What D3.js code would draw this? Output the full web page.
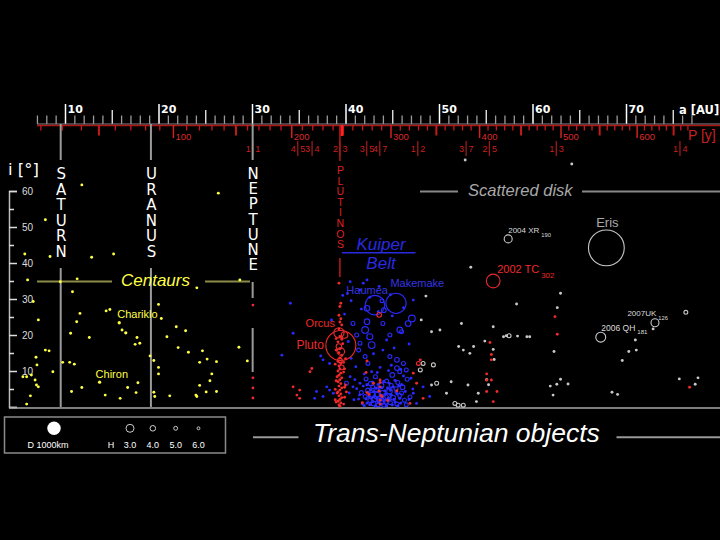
<!DOCTYPE html>
<html lang="en" style="width:100%;height:100%;margin:0;padding:0;">
<head>
<meta charset="UTF-8">
<title>Trans-Neptunian objects</title>
<script src="https://d3js.org/d3.v7.min.js"></script>
<style>
  body { margin: 0; background: #000; }
</style>
</head>
<body>
<svg id="chart" width="720" height="540"></svg>
<script>
// [a (AU), i (deg), H (abs. magnitude)]
const centaurs = [
  [11.8,61.7,6],[26.4,59.4,6],[7.9,52,6],[5.7,42.5,6],[8.4,41.8,6],[12.85,41.6,6],[15.2,42.5,6],
  [6.0,35.3,6],[9.5,34.8,6],[11.3,35.6,6],[10.8,32,6],[24.1,33.1,6],[28.7,35.3,6],[6.6,29.3,6],
  [11.6,26,6],[14.4,26.7,6],[14.8,27.1,6],[11.25,23.7,6],[7.15,24.2,6],[15.8,23.4,5.5],[16.5,20.6,5.5],
  [16.1,21.4,6],[20,28.5,6],[20.3,24.6,6],[21.9,22.3,6],[22.9,21.2,6],[10.6,20.5,6],[12.6,19.3,6],
  [17.7,19.3,6],[17.5,17.4,6],[18.0,17.7,6],[20.9,19.5,6],[22.1,16.5,6],[23.2,15.2,6],[24.7,15.6,6],
  [28.6,16.6,6],[29.5,12.8,6],[7.9,15.8,6],[8.3,15.6,6],[6.9,13.8,6],[7.0,11.7,6],[9.75,12.4,6],
  [10.5,12.4,6],[11.0,11.9,6],[8.7,9.8,6],[19.1,14.2,6],[19.5,12.9,6],[20.0,11,6],[20.0,9.2,6],
  [24.4,12.4,6],[25.2,13.3,6],[26.2,12.6,6],[25.7,9.2,6],[25.5,7.3,6],[24.4,6,6],[24.0,3.3,6],
  [24.1,2.9,6],[25.1,4.2,6],[26.2,4.3,6],[5.5,8.4,6],[5.9,8.4,6],[6.4,8.9,6],[6.8,7.5,6],[6.95,6.1,6],
  [7.15,5.6,6],[6.3,3.1,6],[5.9,0.8,6],[13.7,6.9,5.5],[10.7,4.3,6],[11.8,5.4,6],[14.3,3.3,6],
  [15.9,2.4,6],[16.7,5.4,6],[17.8,6.75,6],[17.6,4,6],[19.5,4.1,6],[19.6,2.9,6],[21.2,3.1,6]
];

const resonant = [
  [30.1,28.3,6],[30.1,8.1,6],[30.1,5.3,6],[30.1,2.5,6],
  [39.3,34.4,6],[39.5,28.8,6],[39.4,27.9,6],[39.3,25.5,6],[39.5,24.5,6],[39.4,23.6,6],[39.6,22.8,6],
  [39.3,21.7,6],[39.3,20.6,2.3],[39.9,20.0,3.6],[39.4,19.6,6],[39.6,18.8,6],[39.2,18.1,6],[39.5,17.1,-0.7],
  [39.3,16.8,4],[39.4,16.2,6],[39.5,15.4,3.2],[39.3,15.1,6],[39.6,14.3,6],[39.4,13.6,6],[39.4,13.0,4.5],
  [39.2,12.7,6],[39.5,12.1,6],[39.3,11.4,6],[39.6,11.0,4.5],[39.4,10.6,6],[39.2,10.0,6],[39.5,9.4,6],
  [39.3,8.8,6],[39.6,8.1,6],[39.4,7.6,6],[39.2,7.0,6],[39.5,6.5,6],[39.3,5.8,6],[39.6,5.3,6],[39.4,4.7,6],
  [39.2,4.2,6],[39.5,3.6,6],[39.3,3.1,6],[39.6,2.6,6],[39.4,2.1,6],[39.2,1.6,6],[39.5,1.1,6],[39.3,0.6,6],
  [39.4,0.2,6],
  [39.0,1.4,6],[39.9,2.7,6],[38.9,4.9,6],[40.0,6.1,6],[39.1,8.4,6],[39.8,9.7,6],[38.9,11.9,6],
  [40.0,13.4,6],[39.0,15.8,6],[39.8,0.8,6],[39.1,3.9,6],[39.9,5.5,6],[39.0,7.3,6],[39.8,12.4,6],
  [39.7,17.6,6],[39.0,19.0,6],[39.9,10.6,6],[38.9,2.0,6],[40.1,4.2,6],
  [43.7,0.8,6],[43.7,1.9,6],[43.8,3.2,6],[43.6,4.4,6],[43.7,5.6,6],[43.7,6.8,6],
  [42.3,4.0,6],[42.2,9.6,6],[42.3,12.8,6],
  [36.4,10.7,6],[36.2,9.8,6],[34.8,3.3,6],[35.1,2.4,6],[34.4,5.6,6],[35.1,4.7,6],[43.6,25.6,4.5],
  [47.8,12.1,5],[48,13.1,6],[47.25,9.4,6],[43.9,2.9,6],[43.0,6.6,6],[43.7,7.5,6],[47.6,6.6,6],
  [48.3,2.4,6],[46.9,1,6],[42.5,3.5,6],[44.5,1.8,6],[45.5,4.5,6],[41.8,1.2,6],
  [55.45,17.9,6],[55.6,14.6,6],[55.6,13.1,6],[55.1,9.2,6],[55.6,7.5,6],[55.1,7.5,6],[55.1,4.3,6],
  [56.2,4.3,6],[55.8,1.5,6],[62.4,25.1,6],[62.65,20.2,6],[76.8,5.5,6],[55.8,35,1.5]
];

const classical = [
  [34.1,28.8,6],[33.2,14.4,6],[37.35,14.2,6],[34.4,20.5,6],[41.9,34.4,6],[42.3,35.3,6],[41.55,32.5,6],
  [40.5,34.8,6],[40.2,31.5,6],[40.6,29.5,6],[43.15,28.3,0.5],[45.4,28.8,0.4],[42.3,27.4,4],[43.9,29.5,5],
  [42.6,30.5,6],[44.1,26.9,4.5],[43.5,26.5,6],[47.25,29.7,6],[47.1,24.6,3.5],[46.7,23.2,4],[45.8,21.4,4],
  [46,20.9,5],[42.3,23.7,4],[42.1,21.4,3.5],[42.6,19.5,3.8],[42.8,17.2,3.5],[44.0,23.2,5],[44.75,20,5],
  [40.8,23.2,5],[41.2,20,5],[41.55,17.7,5],[37.6,13.1,6],[38.3,12.1,6],[41.4,15.8,5],[42.1,14,5],
  [42.4,12.1,5],[44,15.8,6],[44.75,14,5],[45.5,13.1,4.5],[46.2,12.1,5],[46.5,10.3,5],[45.5,10.8,4.5],
  [45.8,9.8,5],[40.5,8.4,6],[40.1,6.6,5],[40.8,5.6,6],[41.55,6.6,6],[38,5.6,6],[38.3,4.7,6],[38.7,3.8,6],
  [37.6,2.9,6],[36.9,4.3,6],[36.7,2.4,6],[48.3,5.6,6],[49.0,2.9,6],[47.25,3.8,6],[47.6,1.0,6],[38.5,24.2,6],
  [42.2,7.8,5],[42.7,6.5,4.5],[43.2,8.4,5],[43.8,6.0,4],[44.4,7.2,5],[45.0,8.9,4.5],[45.6,6.8,5],
  [46.1,5.5,4.5],[46.6,7.7,5],[42.4,4.6,4.5],[42.9,3.4,4],[43.3,4.9,4.5],[43.6,2.2,4],[44.0,3.8,4],
  [44.3,1.4,4.5],[44.7,4.4,4],[45.1,2.6,4.5],[45.4,5.1,5],[45.8,3.2,5],[46.3,1.9,5],[42.6,1.8,5],
  [42.1,2.9,5],[43.0,1.0,4.5],[43.5,0.6,5],[44.1,0.5,5],[44.8,1.2,5],[45.5,0.8,5],[46.0,3.9,5],
  [41.7,4.0,5],[41.4,2.2,6],[41.9,5.8,6],[42.8,9.8,6],[44.6,10.1,6],[43.7,11.0,6],[43.4,3.1,3.5],
  [44.2,2.7,3.5],[43.9,1.6,3.8],[43.1,2.3,3.8],[44.5,3.0,4],[42.9,5.6,5],[44.9,6.0,5],[45.9,10.5,6],
  [47.0,8.0,6],[46.9,2.8,5],[46.5,0.6,5],
  [42.0,0.4,5.6],[42.3,1.1,5.6],[42.6,0.7,5.6],[42.9,1.5,5.6],[43.2,0.3,5.6],[43.5,1.2,5.6],[43.8,0.8,5.6],
  [44.1,1.7,5.6],[44.4,0.4,5.6],[44.7,1.9,5.6],[45.0,0.6,5.6],[45.3,1.4,5.6],[45.6,0.3,5.6],[45.9,1.1,5.6],
  [42.2,2.3,5.6],[42.5,2.9,5.6],[42.8,2.4,5.6],[43.1,3.0,5.6],[43.4,2.6,5.6],[43.7,3.4,5.6],[44.0,2.9,5.6],
  [44.3,3.6,5.6],[44.6,2.5,5.6],[44.9,3.3,5.6],[45.2,2.1,5.6],[45.5,3.7,5.6],[45.8,2.4,5.6],[42.4,4.1,5.6],
  [42.7,4.8,5.6],[43.0,4.3,5.6],[43.3,5.2,5.6],[43.6,4.6,5.6],[43.9,5.4,5.6],[44.2,4.5,5.6],[44.5,5.3,5.6],
  [44.8,4.7,5.6],[45.1,5.6,5.6],[45.4,4.2,5.6],[45.7,5.9,5.6],[42.3,6.2,5.6],[42.9,6.9,5.6],[43.5,6.3,5.6],
  [44.1,7.1,5.6],[44.7,6.6,5.6],[45.3,7.4,5.6],[46.0,6.2,5.6],[41.5,3.3,6],[41.8,0.9,6],[41.2,5.1,6],
  [46.4,4.3,6],[46.8,2.1,6],[47.2,5.0,6],[40.9,2.0,6],[40.4,3.9,6],[41.0,7.6,6],[46.2,8.6,6],[42.0,9.2,6],
  [43.4,9.6,6],[44.9,11.6,6],[41.1,11.2,6],[40.6,13.5,6],[43.0,14.8,6],[45.2,16.4,6],[40.3,18.2,6],
  [46.8,17.5,6],[44.4,18.6,6],[39.9,25.8,6],[41.7,27.2,6],[45.0,25.3,6],[46.2,27.6,6],[44.8,31.2,6],
  [43.6,33.5,6],[39.7,31.0,6]
];

const scattered = [
  [52.8,68.6,6],[64.2,67.5,6],[53.4,38.8,6],[52.4,23.2,6],[48.6,30.8,6],[48.1,24.2,6],[49.2,20.9,6],
  [50.1,21.4,6],[52.1,16.8,6],[52.6,15.8,6],[53.3,14.9,6],[53.7,16.8,6],[48.3,12.1,5],[49.4,11.7,5],
  [48,10.3,5],[49.75,6.6,5],[49.2,6.1,6],[51.3,7,6],[50.8,3.8,6],[51.7,1,5],[52.05,0.5,5],[52.6,0.5,5],
  [53.1,6.1,6],[54.2,3.8,6],[54,1.5,6],[58.3,28.6,6],[63,31.6,6],[62.65,27.6,6],[55.8,22.3,6],
  [56.9,19.5,6],[57.2,19.8,6],[57.5,19.8,5],[58.4,19.7,6],[59.4,19.5,6],[59.7,19.5,6],[54.9,18.3,6],
  [55.8,16,6],[55.9,13.2,6],[62.3,15.4,6],[71,18.6,6],[71.1,15.8,6],[70.3,15.4,6],[69.6,12.9,6],
  [72.9,21.7,6],[76.4,26.3,5],[63,7.7,6],[61.9,5.8,6],[62.6,6.3,6],[63.8,6.4,6],[62.2,3.3,6],
  [68.5,4.1,6],[69.1,3.5,6],[75.7,7.8,6],[77.7,8.1,6],[77.4,6.3,6],[55.1,7.6,5.5],[55.3,6.2,6],
  [67.9,44.2,-1.2],[57.4,46.7,3],[67.3,19.4,2.4],[73.1,23.4,3]
];

const planetNames = ["SATURN", "URANUS", "NEPTUNE"];
const planetA = [9.54, 19.19, 30.07];
const resonances = ["1:1","4:5","3:4","2:3","3:5","4:7","1:2","3:7","2:5","1:3","1:4"];
const inclTicks = [0,5,10,15,20,25,30,35,40,45,50,55,60];
const legendH = ["3.0","4.0","5.0","6.0"];

const SANS = "'Liberation Sans', Arial, sans-serif";
const DEJA = "'DejaVu Sans', sans-serif";
const YEL = "#ffff44", RED = "#ee2a2a", BLUE = "#2a2aff", GREY = "#c8c8c8";

const svg = d3.select("#chart");
svg.append("rect").attr("width", 720).attr("height", 540).attr("fill", "#000");

const x = d3.scaleLinear().domain([10, 70]).range([65, 626]);
const y = d3.scaleLinear().domain([0, 60]).range([407, 191]);
const pScale = d3.scalePow().exponent(2 / 3)
  .domain([Math.pow(10, 1.5), Math.pow(70, 1.5)]).range([65, 626]);
const rad = H => Math.max(1.45, 4 * Math.pow(10, -0.155 * (H - 3)));

// ---- semi-major axis (top) ----
const aTicks = d3.range(7, 78);
function aAxis(vals, size, color) {
  const g = svg.append("g").attr("transform", "translate(0,124)")
    .call(d3.axisTop(x).tickValues(vals).tickSize(size).tickFormat(""));
  g.select(".domain").remove();
  g.selectAll("line").attr("stroke", color).attr("stroke-width", 1.3);
  return g;
}
aAxis(aTicks.filter(d => d % 5), 8.5, "#9a9a9a");
aAxis(aTicks.filter(d => d % 5 === 0 && d % 10), 14, "#f0f0f0");
const aMajor = svg.append("g").attr("transform", "translate(0,124)")
  .call(d3.axisTop(x).tickValues(aTicks.filter(d => d % 10 === 0)).tickSize(20));
aMajor.select(".domain").remove();
aMajor.selectAll("line").attr("stroke", "#fff").attr("stroke-width", 1.5);
aMajor.selectAll("text").attr("x", 2).attr("y", -11).attr("dy", 0)
  .attr("text-anchor", "start").attr("fill", "#fff")
  .attr("font-family", DEJA).attr("font-size", 11).attr("font-weight", "bold");

svg.append("line").attr("x1", x(7)).attr("x2", 720).attr("y1", 124).attr("y2", 124)
  .attr("stroke", "#888").attr("stroke-width", 1.2);
svg.append("line").attr("x1", x(7)).attr("x2", 720).attr("y1", 125.5).attr("y2", 125.5)
  .attr("stroke", "#b01515").attr("stroke-width", 1.5);

svg.append("text").attr("x", 679).attr("y", 114).text("a [AU]")
  .attr("fill", "#fff").attr("font-family", DEJA).attr("font-size", 11.5).attr("font-weight", "bold");

// ---- period (red, below) ----
const pTicks = d3.range(20, 680, 10);
function pAxis(vals, size, width) {
  const g = svg.append("g").attr("transform", "translate(0,125)")
    .call(d3.axisBottom(pScale).tickValues(vals).tickSize(size).tickFormat(""));
  g.select(".domain").remove();
  g.selectAll("line").attr("stroke", "#c41a1a").attr("stroke-width", width);
  return g;
}
pAxis(pTicks.filter(d => d % 50), 5.5, 1.3);
pAxis(pTicks.filter(d => d % 100 === 50), 10.5, 2);
const pMajor = svg.append("g").attr("transform", "translate(0,125)")
  .call(d3.axisBottom(pScale).tickValues(pTicks.filter(d => d % 100 === 0)).tickSize(13));
pMajor.select(".domain").remove();
pMajor.selectAll("line").attr("stroke", "#d42020").attr("stroke-width", 1.5);
pMajor.selectAll("text").attr("x", 2).attr("y", 14.5).attr("dy", 0)
  .attr("text-anchor", "start").attr("fill", "#dd2a2a")
  .attr("font-family", SANS).attr("font-size", 9.5);

svg.append("text").attr("x", 688).attr("y", 140).text("P [y]")
  .attr("fill", "#cc2020").attr("font-family", SANS).attr("font-size", 14);

// resonances with Neptune
const res = svg.append("g");
resonances.forEach(s => {
  const [p, q] = s.split(":").map(Number);
  const xr = x(planetA[2] * Math.pow(q / p, 2 / 3));
  res.append("line").attr("x1", xr).attr("x2", xr).attr("y1", 141).attr("y2", 156)
    .attr("stroke", "#9a1a1a").attr("stroke-width", 1.3);
  res.append("text").attr("x", xr - 2).attr("y", 152).attr("text-anchor", "end").text(p)
    .attr("fill", "#c82020").attr("font-family", SANS).attr("font-size", 9);
  res.append("text").attr("x", xr + 2.5).attr("y", 152).text(q)
    .attr("fill", "#c82020").attr("font-family", SANS).attr("font-size", 9);
});

// ---- inclination axis ----
const iAxis = svg.append("g").attr("transform", "translate(9,0)")
  .call(d3.axisRight(y).tickValues(inclTicks).tickSizeOuter(0).tickPadding(5)
    .tickSize(8).tickFormat(d => d % 10 === 0 && d > 0 ? d : ""));
iAxis.select(".domain").attr("stroke", "#bbb").attr("stroke-width", 1.5);
iAxis.selectAll(".tick line").attr("stroke", "#ddd").attr("stroke-width", 1.5)
  .attr("x2", d => d % 10 === 0 ? 8 : 5);
iAxis.selectAll("text").attr("fill", "#ddd").attr("font-family", SANS).attr("font-size", 10);

svg.append("text").attr("x", 8).attr("y", 175).text("i [°]")
  .attr("fill", "#fff").attr("font-family", DEJA).attr("font-size", 16.5);

svg.append("line").attr("x1", 9).attr("x2", 720).attr("y1", 408).attr("y2", 408)
  .attr("stroke", "#aaa").attr("stroke-width", 1.6);

// ---- planets ----
planetNames.forEach((name, k) => {
  const xp = x(planetA[k]);
  const segs = k < 2 ? [[124, 160], [268, 407]] : [[124, 160], [282, 298], [328, 372]];
  segs.forEach(s => svg.append("line").attr("x1", xp).attr("x2", xp).attr("y1", s[0]).attr("y2", s[1])
    .attr("stroke", "#9a9a9a").attr("stroke-width", 2));
  name.split("").forEach((ch, j) => {
    svg.append("text").attr("x", xp + 0.5).attr("y", 179 + j * (k < 2 ? 15.5 : 15.2))
      .attr("text-anchor", "middle").text(ch)
      .attr("fill", "#fff").attr("font-family", DEJA).attr("font-size", 15);
  });
});

// plutinos marker
const xPl = x(39.4);
svg.append("line").attr("x1", xPl).attr("x2", xPl).attr("y1", 125).attr("y2", 161)
  .attr("stroke", "#b01818").attr("stroke-width", 1.5);
svg.append("line").attr("x1", xPl + 2).attr("x2", xPl + 2).attr("y1", 125).attr("y2", 136)
  .attr("stroke", "#ff2020").attr("stroke-width", 2.5);
svg.append("line").attr("x1", xPl).attr("x2", xPl).attr("y1", 258).attr("y2", 277)
  .attr("stroke", "#c01818").attr("stroke-width", 1.5);
"PLUTINOS".split("").forEach((ch, j) => {
  svg.append("text").attr("x", xPl + 0.5).attr("y", 174 + j * 10.6).attr("text-anchor", "middle")
    .text(ch).attr("fill", "#dd2222").attr("font-family", SANS).attr("font-size", 10.5);
});

// ---- region labels ----
svg.append("line").attr("x1", 37).attr("x2", 112).attr("y1", 281.5).attr("y2", 281.5)
  .attr("stroke", "#8c8c4a").attr("stroke-width", 2);
svg.append("line").attr("x1", 205).attr("x2", 250).attr("y1", 281.5).attr("y2", 281.5)
  .attr("stroke", "#8c8c4a").attr("stroke-width", 2);
svg.append("text").attr("x", 121).attr("y", 286).text("Centaurs")
  .attr("fill", YEL).attr("font-family", SANS).attr("font-style", "italic").attr("font-size", 17);

svg.append("text").attr("x", 381).attr("y", 250).attr("text-anchor", "middle").text("Kuiper")
  .attr("fill", "#2a2ae0").attr("font-family", SANS).attr("font-style", "italic").attr("font-size", 17);
svg.append("line").attr("x1", 342).attr("x2", 415.5).attr("y1", 252.7).attr("y2", 252.7)
  .attr("stroke", "#2a2ae0").attr("stroke-width", 1.5);
svg.append("text").attr("x", 381).attr("y", 268.5).attr("text-anchor", "middle").text("Belt")
  .attr("fill", "#2a2ae0").attr("font-family", SANS).attr("font-style", "italic").attr("font-size", 17);

svg.append("line").attr("x1", 420).attr("x2", 458).attr("y1", 191.5).attr("y2", 191.5)
  .attr("stroke", "#888").attr("stroke-width", 2);
svg.append("line").attr("x1", 582).attr("x2", 720).attr("y1", 191.5).attr("y2", 191.5)
  .attr("stroke", "#888").attr("stroke-width", 2);
svg.append("text").attr("x", 468).attr("y", 196).text("Scattered disk")
  .attr("fill", "#a8a8a8").attr("font-family", SANS).attr("font-style", "italic").attr("font-size", 16.5);

// ---- objects ----
function drawSet(data, color) {
  svg.append("g").selectAll("circle").data(data).join("circle")
    .attr("cx", d => x(d[0])).attr("cy", d => y(d[1])).attr("r", d => rad(d[2]))
    .attr("fill", d => d[2] >= 5.5 ? color : "none")
    .attr("stroke", color).attr("stroke-width", d => d[2] >= 5.5 ? 0 : 1.1);
}
drawSet(classical, BLUE);
drawSet(scattered, GREY);
drawSet(resonant, RED);
drawSet(centaurs, YEL);

// named objects: [label, subscript, a, i, dx, dy, anchor, size, colour]
const names = [
  ["Chiron", "", 13.7, 6.9, -4, -4, "start", 11, YEL],
  ["Chariklo", "", 15.8, 23.4, -2, -4.5, "start", 11, YEL],
  ["Pluto", "", 39.5, 17.1, -17, 4, "end", 12, RED],
  ["Orcus", "", 39.3, 20.6, -4, -6, "end", 11, RED],
  ["Haumea", "", 43.15, 28.3, -28.6, -11, "start", 11, "#3535e0"],
  ["Makemake", "", 45.4, 28.8, -5.6, -16, "start", 11, "#3535e0"],
  ["Eris", "", 67.9, 44.2, 1, -21, "middle", 13, "#aaa"],
  ["2002 TC", "302", 55.8, 35, 4, -7.7, "start", 11, RED],
  ["2004 XR", "190", 57.4, 46.7, 0, -5.6, "start", 8, "#ddd"],
  ["2006 QH", "181", 67.3, 19.4, 0.5, -6.5, "start", 8.5, "#ddd"],
  ["2007UK", "126", 73.1, 23.4, -27.6, -6.8, "start", 8, "#ddd"]
];
names.forEach(n => {
  const t = svg.append("text").attr("x", x(n[2]) + n[4]).attr("y", y(n[3]) + n[5])
    .attr("text-anchor", n[6]).attr("fill", n[8]).attr("font-family", SANS).attr("font-size", n[7]);
  t.append("tspan").text(n[0]);
  if (n[1]) t.append("tspan").attr("dx", 2).attr("dy", n[7] * 0.45).attr("font-size", n[7] * 0.72).text(n[1]);
});

// ---- legend ----
svg.append("rect").attr("x", 4.5).attr("y", 417).attr("width", 221).attr("height", 36)
  .attr("fill", "none").attr("stroke", "#8a8a8a").attr("stroke-width", 1.5);
svg.append("circle").attr("cx", 54).attr("cy", 428.3).attr("r", 6.7).attr("fill", "#fff");
svg.append("text").attr("x", 48).attr("y", 447.5).attr("text-anchor", "middle").text("D 1000km")
  .attr("fill", "#fff").attr("font-family", SANS).attr("font-size", 9);
svg.append("text").attr("x", 111).attr("y", 447.5).attr("text-anchor", "middle").text("H")
  .attr("fill", "#fff").attr("font-family", SANS).attr("font-size", 9);
const lx = d3.scalePoint().domain(legendH).range([130, 198.5]);
legendH.forEach(h => {
  svg.append("circle").attr("cx", lx(h)).attr("cy", 428.3).attr("r", rad(+h))
    .attr("fill", "none").attr("stroke", "#ccc").attr("stroke-width", 1);
  svg.append("text").attr("x", lx(h)).attr("y", 447.5).attr("text-anchor", "middle").text(h)
    .attr("fill", "#fff").attr("font-family", SANS).attr("font-size", 9);
});

// ---- title ----
svg.append("line").attr("x1", 253).attr("x2", 298.5).attr("y1", 437.3).attr("y2", 437.3)
  .attr("stroke", "#999").attr("stroke-width", 2);
svg.append("line").attr("x1", 616.5).attr("x2", 720).attr("y1", 437.3).attr("y2", 437.3)
  .attr("stroke", "#999").attr("stroke-width", 2);
svg.append("text").attr("x", 313).attr("y", 442).text("Trans-Neptunian objects")
  .attr("fill", "#fff").attr("font-family", SANS).attr("font-style", "italic").attr("font-size", 26.5);
</script>
</body>
</html>
